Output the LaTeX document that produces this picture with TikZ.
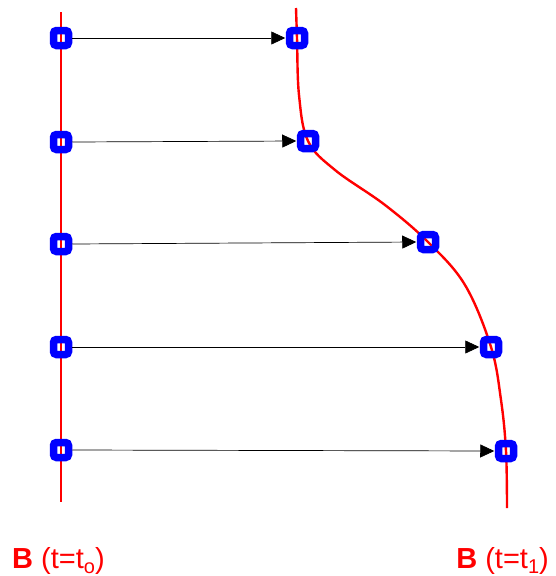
\documentclass[tikz,border=0pt]{standalone}
\usepackage{fontspec}
\setmainfont{Liberation Sans}
\usetikzlibrary{arrows.meta}
\begin{document}
\begin{tikzpicture}[x=1pt,y=-1pt,
  pt/.style={draw=blue,line width=7.5pt,rounded corners=3pt,minimum size=15pt,inner sep=0pt},
  redline/.style={red,line width=2.4pt},
  conn/.style={black,line width=0.7pt,-{Triangle[length=14pt,width=13pt]},shorten >=0.5pt},
  lab/.style={red,font=\fontsize{29}{31}\selectfont,inner sep=0pt},
  sub/.style={}]
\useasboundingbox (0,0) rectangle (555,576);
% red lines
\coordinate (LT) at (61,12);
\coordinate (LB) at (61,502);
\draw[redline] (LT) -- (LB);
\draw[redline] plot[smooth,tension=0.6] coordinates {(296,8) (297,38) (299,95) (308,141) (335,170) (385,205) (428,242) (465,285) (491,347) (501,400) (506,451) (507,508)};
% boxes
\foreach \n/\y in {1/38,2/142,3/244,4/347,5/450}{
  \node[pt] (L\n) at (61,\y) {};
}
\node[pt] (R1) at (297,38) {};
\node[pt] (R2) at (308,141) {};
\node[pt] (R3) at (428,242) {};
\node[pt] (R4) at (491,347) {};
\node[pt] (R5) at (506,451) {};
\foreach \n in {1,...,5}{
  \draw[conn] (L\n.east) -- (R\n.west);
}
\node[lab,anchor=base west] (T0) at (12,568) {\textbf{B} (t=t\raisebox{-5pt}{\fontsize{20}{22}\selectfont o})};
\node[lab,anchor=base east] (T1) at (549,568) {\textbf{B} (t=t\raisebox{-5pt}{\fontsize{20}{22}\selectfont 1})};
\end{tikzpicture}
\end{document}
